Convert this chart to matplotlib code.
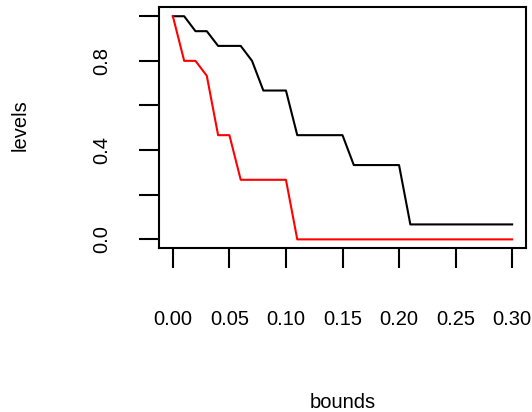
import matplotlib
matplotlib.use("Agg")
import matplotlib.pyplot as plt

plt.rcParams['font.family'] = ['Liberation Sans', 'DejaVu Sans']

bounds = [0.00, 0.01, 0.02, 0.03, 0.04, 0.05, 0.06, 0.07, 0.08, 0.09, 0.10,
          0.11, 0.12, 0.13, 0.14, 0.15, 0.16, 0.17, 0.18, 0.19, 0.20,
          0.21, 0.22, 0.23, 0.24, 0.25, 0.26, 0.27, 0.28, 0.29, 0.30]
levels_black = [1.000, 1.000, 0.933, 0.933, 0.867, 0.867, 0.867, 0.800, 0.667, 0.667, 0.667,
                0.467, 0.467, 0.467, 0.467, 0.467, 0.333, 0.333, 0.333, 0.333, 0.333,
                0.067, 0.067, 0.067, 0.067, 0.067, 0.067, 0.067, 0.067, 0.067, 0.067]
levels_red = [1.000, 0.800, 0.800, 0.733, 0.467, 0.467, 0.267, 0.267, 0.267, 0.267, 0.267,
              0.000, 0.000, 0.000, 0.000, 0.000, 0.000, 0.000, 0.000, 0.000, 0.000,
              0.000, 0.000, 0.000, 0.000, 0.000, 0.000, 0.000, 0.000, 0.000, 0.000]
xticks = [0.00, 0.05, 0.10, 0.15, 0.20, 0.25, 0.30]
xticklabels = ["0.00", "0.05", "0.10", "0.15", "0.20", "0.25", "0.30"]
yticks = [0.0, 0.2, 0.4, 0.6, 0.8, 1.0]
yticklabels = ["0.0", "", "0.4", "", "0.8", ""]

W, H = 532, 412
fig = plt.figure(figsize=(W / 100, H / 100), dpi=100)
left, right, top, bottom = 159.3, 525.7, 7.3, 248.3
ax = fig.add_axes([left / W, 1 - bottom / H, (right - left) / W, (bottom - top) / H])

ax.plot(bounds, levels_black, color='black', lw=1.5)
ax.plot(bounds, levels_red, color='#ff0000', lw=1.5)

ax.set_xlim(-0.012, 0.312)
ax.set_ylim(-0.04, 1.04)
ax.set_xticks(xticks)
ax.set_xticklabels(xticklabels)
ax.set_yticks(yticks)
ax.set_yticklabels(yticklabels, rotation=90, va='center')

for s in ax.spines.values():
    s.set_linewidth(1.5)
ax.tick_params(axis='both', direction='out', length=14.4, width=1.5, labelsize=14.5)
ax.tick_params(axis='x', pad=30)
ax.tick_params(axis='y', pad=20)

fig.text(342.7 / W, 1 - 402 / H, 'bounds', ha='center', va='center', fontsize=14.5)
fig.text(20 / W, 1 - 125 / H, 'levels', ha='center', va='center', fontsize=14.5, rotation=90)

fig.savefig('out.png', dpi=100)
